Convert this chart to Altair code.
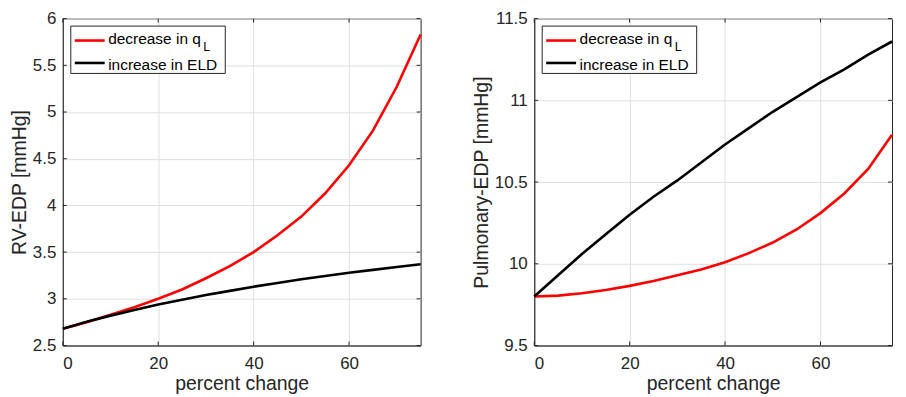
import altair as alt
import pandas as pd

# ---- data ----
percent = [0, 5, 10, 15, 20, 25, 30, 35, 40, 45, 50, 55, 60, 65, 70, 75]
rv_decrease_qL = [2.68, 2.75, 2.83, 2.91, 3.00, 3.10, 3.22, 3.35, 3.50, 3.68, 3.88, 4.13, 4.43, 4.80, 5.27, 5.83]
rv_increase_ELD = [2.68, 2.755, 2.82, 2.88, 2.94, 2.99, 3.04, 3.085, 3.13, 3.17, 3.21, 3.245, 3.28, 3.31, 3.34, 3.37]
pul_decrease_qL = [9.80, 9.805, 9.82, 9.84, 9.865, 9.895, 9.93, 9.965, 10.01, 10.065, 10.13, 10.21, 10.31, 10.43, 10.58, 10.79]
pul_increase_ELD = [9.80, 9.93, 10.06, 10.18, 10.30, 10.41, 10.51, 10.62, 10.73, 10.83, 10.93, 11.02, 11.11, 11.19, 11.28, 11.36]

x_ticks = [0, 20, 40, 60]
rv_ticks = [2.5, 3, 3.5, 4, 4.5, 5, 5.5, 6]
pul_ticks = [9.5, 10, 10.5, 11, 11.5]

legend_main = ["decrease in q", "increase in ELD"]
legend_sub = "L"
series_colors = ["#ff0000", "#000000"]

W, H = 359, 328
FONT = "Liberation Sans"
INK = "#262626"
LW = 2.6
LABEL_EXPR = "'' + datum.value"


def panel(qL, eld, ydomain, yticks, ytitle):
    n = len(percent)
    df = pd.DataFrame({"pct": percent + percent,
                       "val": qL + eld,
                       "series": ["qL"] * n + ["ELD"] * n})
    xenc = alt.X("pct:Q", scale=alt.Scale(domain=[0, 75], nice=False, zero=False),
                 axis=alt.Axis(values=x_ticks, title="percent change", labelExpr=LABEL_EXPR))
    yenc = alt.Y("val:Q", scale=alt.Scale(domain=ydomain, nice=False, zero=False),
                 axis=alt.Axis(values=yticks, title=ytitle, labelExpr=LABEL_EXPR))
    base = alt.Chart(df).encode(x=xenc, y=yenc)
    red = base.transform_filter(alt.datum.series == "qL").mark_line(color=series_colors[0], strokeWidth=LW)
    black = base.transform_filter(alt.datum.series == "ELD").mark_line(color=series_colors[1], strokeWidth=LW)

    xt = pd.DataFrame({"pct": x_ticks})
    yt = pd.DataFrame({"val": yticks})
    tb = alt.Chart(xt).mark_rule(color=INK, strokeWidth=1).encode(x=xenc, y=alt.value(H), y2=alt.value(H - 4))
    tt = alt.Chart(xt).mark_rule(color=INK, strokeWidth=1).encode(x=xenc, y=alt.value(0), y2=alt.value(4))
    tl = alt.Chart(yt).mark_rule(color=INK, strokeWidth=1).encode(y=yenc, x=alt.value(0), x2=alt.value(4))
    tr = alt.Chart(yt).mark_rule(color=INK, strokeWidth=1).encode(y=yenc, x=alt.value(W - 4), x2=alt.value(W))

    one = pd.DataFrame({"k": [0]})
    box = alt.Chart(one).mark_rect(fill="white", stroke=INK, strokeWidth=1).encode(
        x=alt.value(8), x2=alt.value(163), y=alt.value(7.5), y2=alt.value(55))
    l1 = alt.Chart(one).mark_rule(color=series_colors[0], strokeWidth=LW).encode(
        x=alt.value(12), x2=alt.value(42), y=alt.value(22))
    l2 = alt.Chart(one).mark_rule(color=series_colors[1], strokeWidth=LW).encode(
        x=alt.value(12), x2=alt.value(42), y=alt.value(44.5))
    t1 = alt.Chart(one).mark_text(align="left", baseline="alphabetic", font=FONT, fontSize=15.5, color="#000000").encode(
        x=alt.value(45.5), y=alt.value(25.5), text=alt.value(legend_main[0]))
    t1s = alt.Chart(one).mark_text(align="left", baseline="alphabetic", font=FONT, fontSize=12.5, color="#000000").encode(
        x=alt.value(141), y=alt.value(32.5), text=alt.value(legend_sub))
    t2 = alt.Chart(one).mark_text(align="left", baseline="alphabetic", font=FONT, fontSize=15.5, color="#000000").encode(
        x=alt.value(45.5), y=alt.value(52), text=alt.value(legend_main[1]))

    return alt.layer(red, black, tb, tt, tl, tr, box, l1, l2, t1, t1s, t2).properties(width=W, height=H)


left = panel(rv_decrease_qL, rv_increase_ELD, [2.5, 6], rv_ticks, "RV-EDP [mmHg]")
right = panel(pul_decrease_qL, pul_increase_ELD, [9.5, 11.5], pul_ticks, "Pulmonary-EDP [mmHg]")

chart = alt.hconcat(left, right, spacing=114, bounds="flush").properties(
    padding={"left": 0, "top": 0, "right": 0, "bottom": 0}
).configure_axis(
    labelFont=FONT, labelFontSize=17, labelColor=INK,
    titleFont=FONT, titleFontSize=19.5, titleFontWeight="normal", titleColor=INK,
    gridColor="#dfdfdf", gridWidth=1, domainColor=INK, domainWidth=1,
    ticks=False, labelPadding=7, titlePadding=3
).configure_axisX(
    labelPadding=10, titlePadding=3
).configure_view(stroke=INK, strokeWidth=1)

chart.save("out.html", embed_options={"renderer": "svg", "actions": False})
